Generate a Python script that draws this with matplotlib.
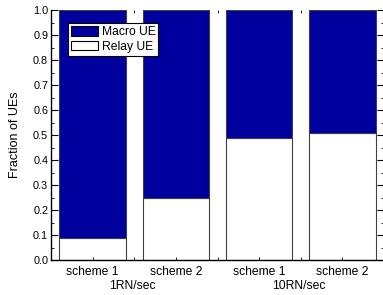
import numpy as np
import matplotlib

matplotlib.use("Agg")
import matplotlib.pyplot as plt
from matplotlib.ticker import MultipleLocator, FixedLocator

plt.rcParams["font.family"] = ["Liberation Sans", "DejaVu Sans"]

# data
schemes = ["scheme 1", "scheme 2", "scheme 1", "scheme 2"]
groups = ["1RN/sec", "10RN/sec"]
relay_ue = [0.087, 0.248, 0.488, 0.508]
macro_ue = [1 - r for r in relay_ue]

BLUE = "#00009F"

fig = plt.figure(figsize=(3.83, 2.95), dpi=100)
ax = fig.add_axes([51 / 383, 35 / 295, 333 / 383, 250 / 295])

x = np.arange(len(schemes))
ax.bar(x, relay_ue, width=0.8, color="white", edgecolor="#404040",
       lw=0.8, label="Relay UE")
ax.bar(x, macro_ue, bottom=relay_ue, width=0.8, color=BLUE,
       edgecolor="#404040", lw=0.8, label="Macro UE")

ax.set_xlim(-0.5, 3.5)
ax.set_ylim(0, 1.0)
ax.yaxis.set_minor_locator(MultipleLocator(0.05))
ax.set_yticks(np.arange(0, 1.01, 0.1))
ax.set_yticklabels([f"{v:.1f}" for v in np.arange(0, 1.01, 0.1)])
ax.set_xticks(x)
ax.set_xticklabels(schemes)
ax.xaxis.set_minor_locator(FixedLocator([0.5, 1.5, 2.5]))

ax.tick_params(axis="y", which="major", direction="in", length=5,
               width=0.8, right=True, labelsize=7.8, pad=2)
ax.tick_params(axis="y", which="minor", direction="in", length=2.5,
               width=0.6, right=True)
ax.tick_params(axis="x", which="major", direction="in", length=2,
               width=0.6, labelsize=8.7, pad=4)
ax.tick_params(axis="x", which="minor", direction="in", length=2,
               width=0.6, top=True)

for s in ("top", "right"):
    ax.spines[s].set_visible(False)
for s in ("left", "bottom"):
    ax.spines[s].set_linewidth(1.0)

ax.set_ylabel("Fraction of UEs", fontsize=9, labelpad=9)

for i, g in enumerate(groups):
    ax.text(2 * i + 0.48, -0.105, g, transform=ax.get_xaxis_transform(),
            ha="center", va="center", fontsize=8.7)

h, l = ax.get_legend_handles_labels()
leg = ax.legend(h[::-1], l[::-1], loc="upper left",
                bbox_to_anchor=(0.052, 0.948), fontsize=8.7, frameon=True,
                fancybox=False, edgecolor="black", framealpha=1,
                borderpad=0.25, handlelength=2.2, handleheight=0.85,
                handletextpad=0.3, labelspacing=0.22, borderaxespad=0)
leg.get_frame().set_linewidth(0.8)
for p in leg.get_patches():
    p.set_edgecolor("black")

fig.savefig("out.png", dpi=100)
